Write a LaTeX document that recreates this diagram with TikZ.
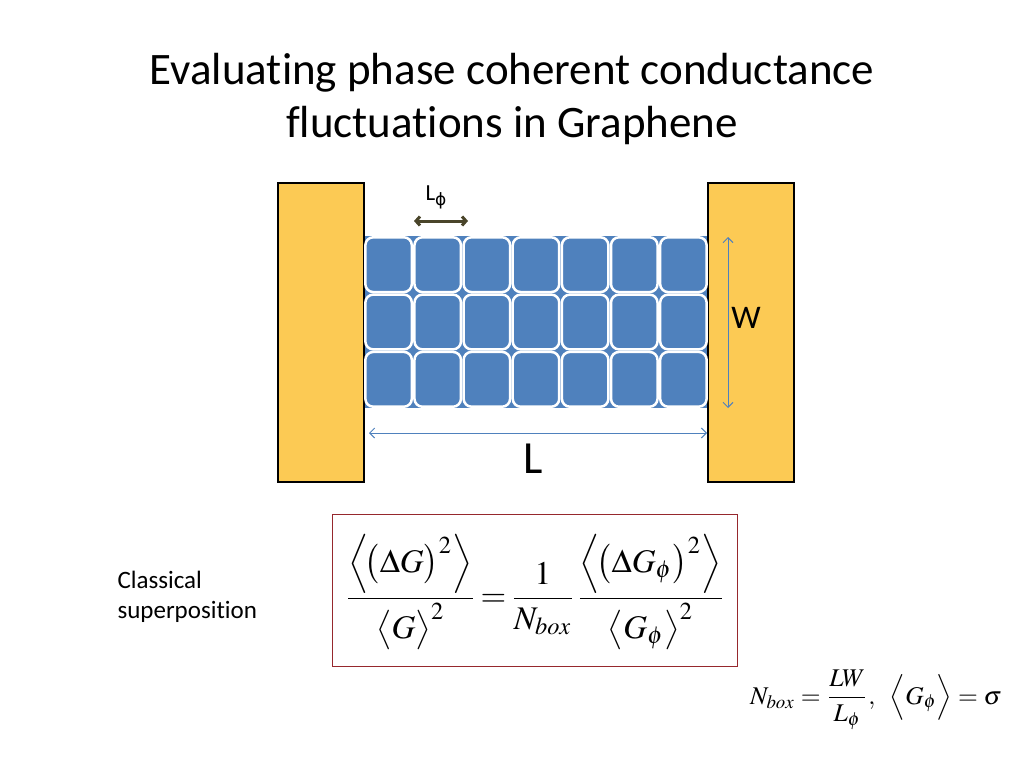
\documentclass[tikz,border=0pt]{standalone}
\usepackage{amsmath}
\usepackage{mathptmx}
\usepackage[no-math]{fontspec}
\setmainfont{Carlito}[Ligatures=NoCommon]
\newfontfamily\phifont{DejaVu Sans}
\usetikzlibrary{arrows.meta}
\definecolor{contactyellow}{RGB}{252,202,84}
\definecolor{cellblue}{RGB}{79,129,189}
\definecolor{phiolive}{RGB}{74,69,42}
\definecolor{boxred}{RGB}{150,40,45}

\begin{document}
\begin{tikzpicture}[x=1pt,y=-1pt,
  contact/.style={draw=black,line width=2.5pt,fill=contactyellow,minimum width=86pt,minimum height=299pt,inner sep=0pt},
  cell/.style={draw=white,line width=2.5pt,fill=cellblue,rounded corners=8pt,minimum width=46.5pt,minimum height=54.8pt,inner sep=0pt},
  dimarrow/.style={draw=cellblue,line width=1pt,{Straight Barb[length=5pt,width=10pt]}-{Straight Barb[length=5pt,width=10pt]}},
  phiarrow/.style={draw=phiolive,line width=3pt,{Straight Barb[length=4pt,width=9pt]}-{Straight Barb[length=4pt,width=9pt]}}]
\useasboundingbox (0,0) rectangle (1024,768);
% title
\node[align=center,font=\fontsize{45}{53}\selectfont] (title) at (512,99) {Evaluating phase coherent conductance\\fluctuations in Graphene};
% sample: channel between two contacts
\node[fill=cellblue,minimum width=344pt,minimum height=172pt,inner sep=0pt] (channel) at (536,322) {};
\node[contact] (leftcontact) at (321,332.5) {};
\node[contact] (rightcontact) at (751,332.5) {};
\foreach \r in {0,1,2}
  \foreach \c in {0,...,6}
    \node[cell] (cell\r\c) at (364+49.14*\c+24.57,236+57.33*\r+28.67) {};
% phase coherence length
\coordinate (phileft) at (414,221);
\coordinate (phiright) at (468,221);
\draw[phiarrow] (phileft) -- (phiright);
\node[font=\fontsize{23}{26}\selectfont] (philabel) at (436,197) {L\raisebox{-0.45ex}{\phifont\fontsize{17}{20}\selectfont ϕ}};
% width and length
\coordinate (wtop) at (728,237);
\coordinate (wbottom) at (728,408);
\draw[dimarrow] (wtop) -- (wbottom);
\node[font=\fontsize{33}{36}\selectfont] (wlabel) at (746,318) {W};
\coordinate (lleft) at (369,433);
\coordinate (lright) at (707,433);
\draw[dimarrow] (lleft) -- (lright);
\node[font=\fontsize{46}{50}\selectfont] (llabel) at (533,459) {L};
% formulas
\node[align=left,anchor=west,font=\fontsize{25}{29.5}\selectfont] (classical) at (114,597) {Classical\\superposition};
\node[draw=boxred,line width=1pt,minimum width=405pt,minimum height=152pt] (eqbox) at (534.5,590) {};
\node[scale=3.3,inner sep=0pt] (eq) at (535,592) {$\displaystyle
  \frac{\Bigl\langle\!\bigl(\Delta G\bigr)^{2}\Bigr\rangle}{\bigl\langle G\bigr\rangle^{2}}
  \!=\!\frac{1}{N_{box}}
  \frac{\Bigl\langle\!\bigl(\Delta G_\phi\bigr)^{2}\Bigr\rangle}{\bigl\langle G_\phi\bigr\rangle^{2}}$};
\node[scale=2.55,inner sep=0pt] (nbox) at (876,700) {$\displaystyle N_{box}=\frac{LW}{L_\phi},\ \ \Bigl\langle G_\phi\Bigr\rangle=\sigma$};
\end{tikzpicture}
\end{document}
